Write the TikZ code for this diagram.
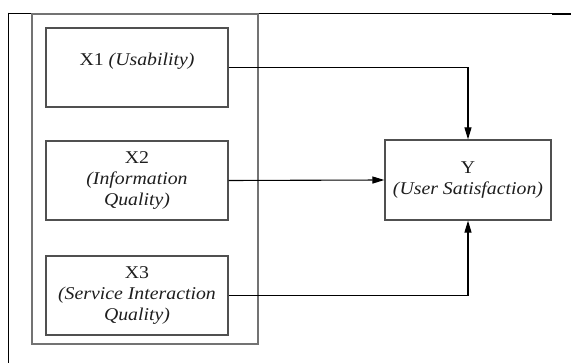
\documentclass[tikz,border=0pt]{standalone}
\usepackage{fontspec}
\setmainfont{Liberation Serif}[FakeStretch=1.1]
\usetikzlibrary{arrows.meta}
\definecolor{boxgray}{RGB}{80,80,80}
\definecolor{grpgray}{RGB}{115,115,115}
\definecolor{txt}{RGB}{30,30,30}
\tikzset{
  varbox/.style={draw=boxgray, line width=1.2pt, minimum width=182pt, minimum height=79pt, inner sep=0pt, align=center, text=txt, font=\fontsize{18}{21}\selectfont},
  lbl/.style={inner sep=0pt, align=center, text=txt, font=\fontsize{18}{21}\selectfont},
  arr/.style={line width=1.1pt, -{Triangle[length=12pt,width=7pt]}},
}
\begin{document}
\begin{tikzpicture}[x=1pt,y=-1pt]
\useasboundingbox (0,0) rectangle (571,363);
% outer frame lines
\draw[line width=1.4pt] (8,13.3) -- (552,13.3);
\draw[line width=2.4pt] (552,14.3) -- (571,14.3);
\draw[line width=1.8pt] (8.5,12.6) -- (8.5,363);
% group box
\node[draw=grpgray, line width=1.4pt, minimum width=226pt, minimum height=330pt, inner sep=0pt] (grp) at (145,179) {};
% variable boxes
\node[varbox] (x1) at (137,67.5) {};
\node[lbl] (t1) at (137,61) {X1 \textit{(Usability)}};
\node[varbox] (x2) at (137,180.5) {X2\\\textit{(Information}\\\textit{Quality)}};
\node[varbox] (x3) at (137,295.5) {X3\\\textit{(Service Interaction}\\\textit{Quality)}};
\node[varbox, minimum width=166pt, minimum height=80pt] (y) at (468,180) {Y\\\textit{(User Satisfaction)}};
% connectors
\draw[arr] (x1.east) -| (y.north);
\draw[arr] (x2.east) -- (y.west);
\draw[arr] (x3.east) -| (y.south);
\end{tikzpicture}
\end{document}
